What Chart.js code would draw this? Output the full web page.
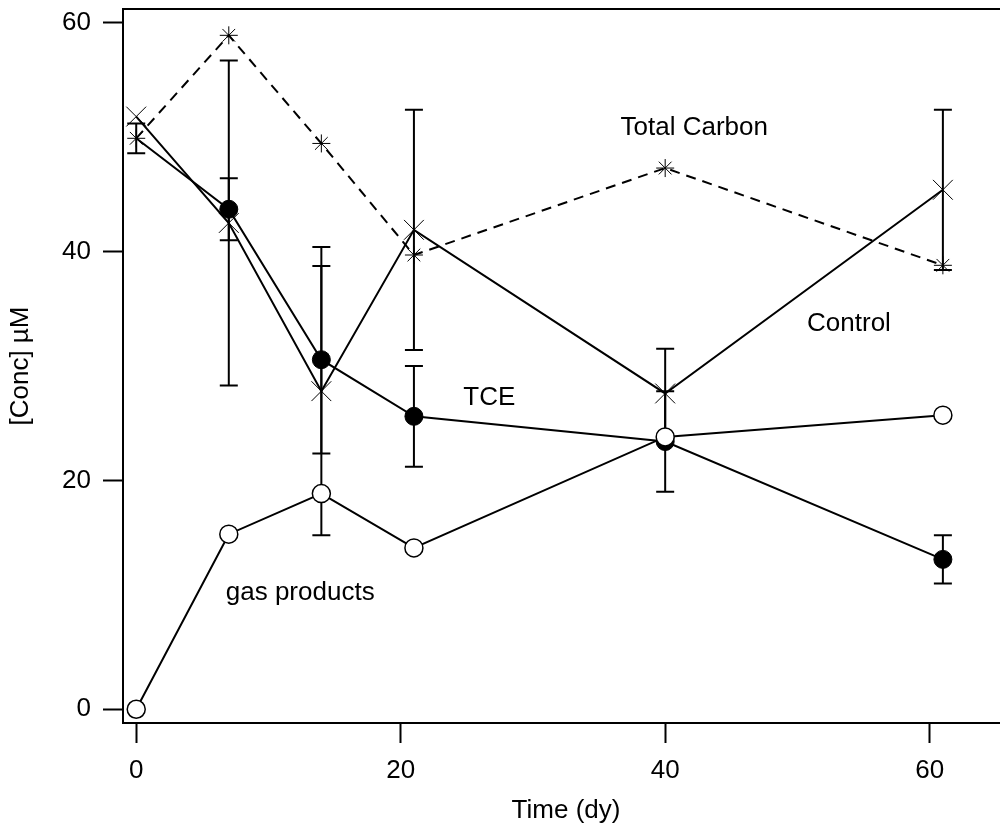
<!DOCTYPE html>
<html>
<head>
<meta charset="utf-8">
<title>TCE concentration</title>
<script src="https://cdn.jsdelivr.net/npm/chart.js@4.4.1/dist/chart.umd.min.js"></script>
<style>
  html, body { margin: 0; padding: 0; background: #fff; overflow: hidden; }
  .chart-box { width: 1010px; height: 826px; }
</style>
</head>
<body>
<div class="chart-box"><canvas id="conc"></canvas></div>
<script>
// sampling days
const days = [0, 7, 14, 21, 40, 61];

// concentrations, uM
const tce = [49.9, 43.7, 30.55, 25.6, 23.4, 13.1];
const tceErr = [1.3, 2.7, 8.2, 4.4, 4.4, 2.1];
const control = [51.8, 42.5, 27.8, 41.9, 27.6, 45.4];
const controlErr = [0, 14.2, 12.6, 10.5, 3.9, 7.0];
const gasProducts = [0, 15.3, 18.85, 14.1, 23.8, 25.7];
const totalCarbon = [49.9, 58.9, 49.45, 39.7, 47.3, 38.8];

const xTicks = [0, 20, 40, 60];
const yTicks = [0, 20, 40, 60];

// in-plot series names: [text, day, conc]
const seriesLabels = [
  ["Total Carbon", 42.2, 50.8],
  ["Control", 53.9, 33.7],
  ["TCE", 26.7, 27.2],
  ["gas products", 12.4, 10.2],
];

const FONT = "'Liberation Sans', Arial, Helvetica, sans-serif";
const toPoints = (vals) => vals.map((v, i) => ({ x: days[i], y: v }));

// vertical bars with caps, drawn under the markers
const errorBars = {
  id: "errorBars",
  beforeDatasetsDraw(chart) {
    const { ctx, scales: { x, y } } = chart;
    ctx.save();
    ctx.strokeStyle = "#000";
    ctx.lineWidth = 2;
    chart.data.datasets.forEach((ds) => {
      if (!ds.errors) return;
      ds.data.forEach((p, i) => {
        const e = ds.errors[i];
        if (!e) return;
        const px = x.getPixelForValue(p.x);
        const top = y.getPixelForValue(p.y + e);
        const bot = y.getPixelForValue(p.y - e);
        ctx.beginPath();
        ctx.moveTo(px, top);
        ctx.lineTo(px, bot);
        ctx.moveTo(px - 9, top);
        ctx.lineTo(px + 9, top);
        ctx.moveTo(px - 9, bot);
        ctx.lineTo(px + 9, bot);
        ctx.stroke();
      });
    });
    ctx.restore();
  },
};

// top edge of the frame (left and bottom come from the axes)
const frameTop = {
  id: "frameTop",
  beforeDatasetsDraw(chart) {
    const { ctx, chartArea } = chart;
    ctx.save();
    ctx.strokeStyle = "#000";
    ctx.lineWidth = 2;
    ctx.beginPath();
    ctx.moveTo(chartArea.left - 1, chartArea.top);
    ctx.lineTo(chart.width, chartArea.top);
    ctx.stroke();
    ctx.restore();
  },
};

const seriesText = {
  id: "seriesText",
  afterDatasetsDraw(chart) {
    const { ctx, scales: { x, y } } = chart;
    ctx.save();
    ctx.fillStyle = "#000";
    ctx.font = "26px " + FONT;
    ctx.textAlign = "center";
    ctx.textBaseline = "middle";
    seriesLabels.forEach(([text, d, c]) => {
      ctx.fillText(text, x.getPixelForValue(d), y.getPixelForValue(c));
    });
    ctx.restore();
  },
};

new Chart(document.getElementById("conc"), {
  type: "line",
  data: {
    datasets: [
      {
        label: "gas products",
        data: toPoints(gasProducts),
        borderColor: "#000",
        borderWidth: 2,
        pointStyle: "circle",
        pointRadius: 9,
        pointBackgroundColor: "#fff",
        pointBorderColor: "#000",
        pointBorderWidth: 1.5,
        order: 1,
      },
      {
        label: "TCE",
        data: toPoints(tce),
        errors: tceErr,
        borderColor: "#000",
        borderWidth: 2,
        pointStyle: "circle",
        pointRadius: [0, 9, 9, 9, 9, 9],
        pointBackgroundColor: "#000",
        pointBorderColor: "#000",
        pointBorderWidth: 1,
        order: 2,
      },
      {
        label: "Control",
        data: toPoints(control),
        errors: controlErr,
        borderColor: "#000",
        borderWidth: 2,
        pointStyle: "crossRot",
        pointRadius: 14,
        pointBorderColor: "#000",
        pointBorderWidth: 1,
        order: 3,
      },
      {
        label: "Total Carbon",
        data: toPoints(totalCarbon),
        borderColor: "#000",
        borderWidth: 2,
        borderDash: [10, 7],
        pointStyle: "star",
        pointRadius: 9,
        pointBorderColor: "#000",
        pointBorderWidth: 1,
        order: 4,
      },
    ],
  },
  options: {
    responsive: true,
    maintainAspectRatio: false,
    animation: false,
    layout: {
      autoPadding: false,
      padding: { top: 9, right: 1, bottom: 0, left: 0 },
    },
    plugins: {
      legend: { display: false },
      tooltip: { enabled: false },
    },
    elements: { line: { tension: 0 } },
    scales: {
      x: {
        type: "linear",
        min: -1,
        max: 66,
        afterFit(s) {
          s.height = 103;
          s.paddingLeft = 0;
          s.paddingRight = 0;
        },
        afterBuildTicks(s) {
          s.ticks = xTicks.map((v) => ({ value: v }));
        },
        grid: {
          drawOnChartArea: false,
          tickLength: 20,
          tickWidth: 2,
          tickColor: "#000",
        },
        border: { color: "#000", width: 2 },
        ticks: {
          color: "#000",
          font: { family: FONT, size: 26 },
          padding: 12,
          maxRotation: 0,
        },
        title: {
          display: true,
          text: "Time (dy)",
          color: "#000",
          font: { family: FONT, size: 26 },
          padding: { top: 0, bottom: 0 },
        },
      },
      y: {
        type: "linear",
        min: -1.2,
        max: 61.2,
        afterFit(s) {
          s.width = 123;
          s.paddingTop = 0;
          s.paddingBottom = 0;
        },
        afterBuildTicks(s) {
          s.ticks = yTicks.map((v) => ({ value: v }));
        },
        grid: {
          drawOnChartArea: false,
          tickLength: 20,
          tickWidth: 2,
          tickColor: "#000",
        },
        border: { color: "#000", width: 2 },
        ticks: {
          color: "#000",
          font: { family: FONT, size: 26 },
          padding: 12,
        },
        title: {
          display: true,
          text: "[Conc] µM",
          color: "#000",
          font: { family: FONT, size: 26 },
          padding: { top: 5, bottom: 0 },
        },
      },
    },
  },
  plugins: [errorBars, frameTop, seriesText],
});
</script>
</body>
</html>
